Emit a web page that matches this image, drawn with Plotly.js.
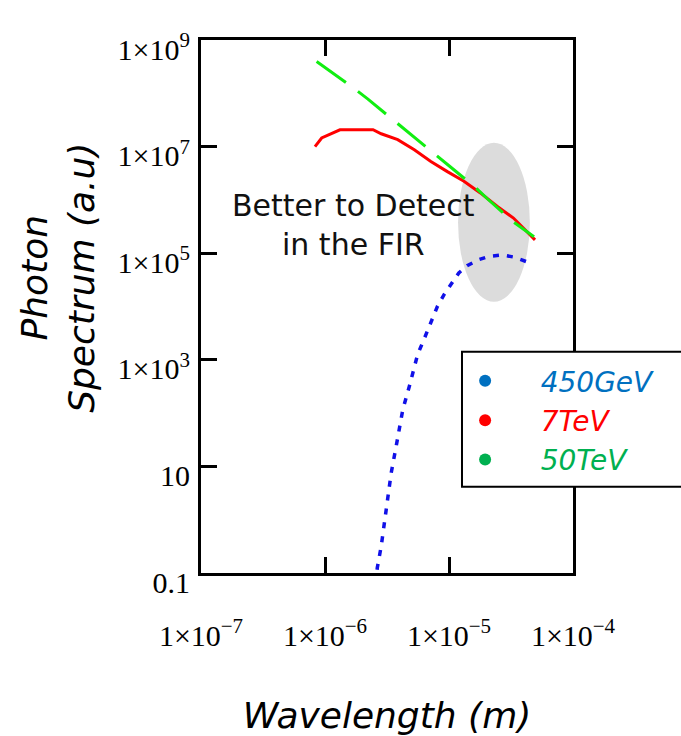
<!DOCTYPE html>
<html>
<head>
<meta charset="utf-8">
<script src="https://cdn.plot.ly/plotly-3.0.1.min.js"></script>
<style>html,body{margin:0;padding:0;background:#fff;}</style>
</head>
<body>
<div id="chart" style="width:681px;height:736px;"></div>
<script>
// Wavelength (m) and photon spectrum (a.u.)
const red7TeV_x = [8.3e-7, 9.4e-7, 1.32e-6, 2.44e-6, 2.84e-6, 3.86e-6, 5.25e-6, 7.14e-6, 9.7e-6, 1.32e-5, 1.79e-5, 2.44e-5, 3.31e-5, 4.94e-5];
const red7TeV_y = [1.0e7, 1.45e7, 2.07e7, 2.07e7, 1.74e7, 1.35e7, 8.7e6, 5.25e6, 3.39e6, 2.24e6, 1.35e6, 7.6e5, 4.57e5, 1.78e5];

const green50TeV_x = [8.56e-7, 1.13e-6, 1.64e-6, 2.22e-6, 3.89e-6, 4.94e-6, 7.98e-6, 1.0e-5, 1.64e-5, 2.04e-5, 3.29e-5, 4.85e-5];
const green50TeV_y = [3.95e8, 2.51e8, 1.34e8, 7.76e7, 2.69e7, 1.66e7, 6.76e6, 4.37e6, 1.70e6, 1.05e6, 3.89e5, 2.04e5];

const blue450GeV_x = [2.57e-6, 2.64e-6, 2.84e-6, 3.12e-6, 3.42e-6, 3.75e-6, 4.24e-6, 4.79e-6, 5.58e-6, 6.31e-6, 7.14e-6, 8.07e-6, 9.12e-6, 1.03e-5, 1.20e-5, 1.40e-5, 1.74e-5, 2.09e-5, 2.67e-5, 3.31e-5, 4.37e-5];
const blue450GeV_y = [0.063, 0.125, 0.318, 1.55, 7.57, 23.9, 116, 318, 1250, 2470, 5270, 1.01e4, 1.67e4, 2.57e4, 4.26e4, 5.83e4, 7.57e4, 8.71e4, 9.27e4, 8.49e4, 6.73e4];

const seriesNames = ["450GeV", "7TeV", "50TeV"];
const legendColors = ["#0070c0", "#ff0000", "#00b050"];

const xTickVals = [1e-7, 1e-6, 1e-5, 1e-4];
const xTickText = ["1×10<sup>−7</sup>", "1×10<sup>−6</sup>", "1×10<sup>−5</sup>", "1×10<sup>−4</sup>"];
const yTickVals = [0.1, 10, 1e3, 1e5, 1e7, 1e9];
const yTickText = ["0.1", "10", "1×10<sup>3</sup>", "1×10<sup>5</sup>", "1×10<sup>7</sup>", "1×10<sup>9</sup>"];

const xTitle = "Wavelength (m)";
const yTitle = "Photon<br>Spectrum (a.u)";

const pad = "&nbsp;&nbsp;&nbsp;&nbsp;";

const traces = [
  {x: blue450GeV_x, y: blue450GeV_y, mode: "lines", line: {color: "#1010e8", width: 3.5, dash: "6px,8px"}, showlegend: false, hoverinfo: "skip"},
  {x: red7TeV_x, y: red7TeV_y, mode: "lines", line: {color: "#ff0000", width: 3}, showlegend: false, hoverinfo: "skip"},
  {x: green50TeV_x, y: green50TeV_y, mode: "lines", line: {color: "#11ee11", width: 3, dash: "36px,15px"}, showlegend: false, hoverinfo: "skip"}
];
seriesNames.forEach((n, i) => {
  traces.push({x: [null], y: [null], mode: "markers", name: pad + '<span style="color:' + legendColors[i] + '">' + n + '</span>',
    marker: {color: legendColors[i], size: 7}, showlegend: true});
});

const tickFont = {family: "Liberation Serif, Times New Roman, serif", size: 30, color: "#000"};
const titleFont = {family: "DejaVu Sans, sans-serif", size: 36, color: "#000", style: "italic"};

const layout = {
  width: 681, height: 736,
  margin: {l: 201, r: 108, t: 40, b: 163},
  paper_bgcolor: "#fff", plot_bgcolor: "#fff",
  showlegend: true,
  xaxis: {
    type: "log", range: [-7, -4], tickvals: xTickVals, ticktext: xTickText,
    showline: true, linewidth: 3, linecolor: "#000", mirror: "ticks",
    ticks: "inside", ticklen: 16, tickwidth: 3, tickcolor: "#000",
    showgrid: false, zeroline: false, tickfont: tickFont, ticklabelstandoff: 34,
    title: {text: xTitle, font: titleFont, standoff: 58}, automargin: false
  },
  yaxis: {
    type: "log", range: [-1, 9], tickvals: yTickVals, ticktext: yTickText,
    showline: true, linewidth: 3, linecolor: "#000", mirror: "ticks",
    ticks: "inside", ticklen: 16, tickwidth: 3, tickcolor: "#000",
    showgrid: false, zeroline: false, tickfont: tickFont, ticklabelstandoff: 2, ticklabelshift: 9,
    automargin: false
  },
  legend: {
    x: 0.71, xanchor: "left", y: 0.407, yanchor: "top",
    bgcolor: "rgba(0,0,0,0)", borderwidth: 0,
    font: {family: "DejaVu Sans, sans-serif", size: 28, style: "italic"},
    itemsizing: "constant", tracegroupgap: 0
  },
  shapes: [
    {type: "circle", xref: "paper", yref: "paper", x0: 0.691, x1: 0.884, y0: 0.509, y1: 0.807,
     fillcolor: "#dcdcdc", line: {width: 0}, layer: "below"},
    {type: "rect", xref: "paper", yref: "paper", x0: 0.7016, x1: 1.32, y0: 0.162, y1: 0.415,
     fillcolor: "#fff", line: {color: "#000", width: 2}, layer: "above"}
  ],
  annotations: [
    {xref: "paper", yref: "paper", x: 0.409, y: 0.653, text: "Better to Detect<br>in the FIR", showarrow: false,
     font: {family: "DejaVu Sans, sans-serif", size: 30, color: "#111"}, align: "center"},
    {xref: "paper", yref: "paper", x: -0.384, y: 0.554, text: yTitle, textangle: -90, showarrow: false,
     font: titleFont, align: "center", xanchor: "center", yanchor: "middle"}
  ]
};

Plotly.newPlot("chart", traces, layout, {displayModeBar: false, staticPlot: true});
</script>
</body>
</html>
